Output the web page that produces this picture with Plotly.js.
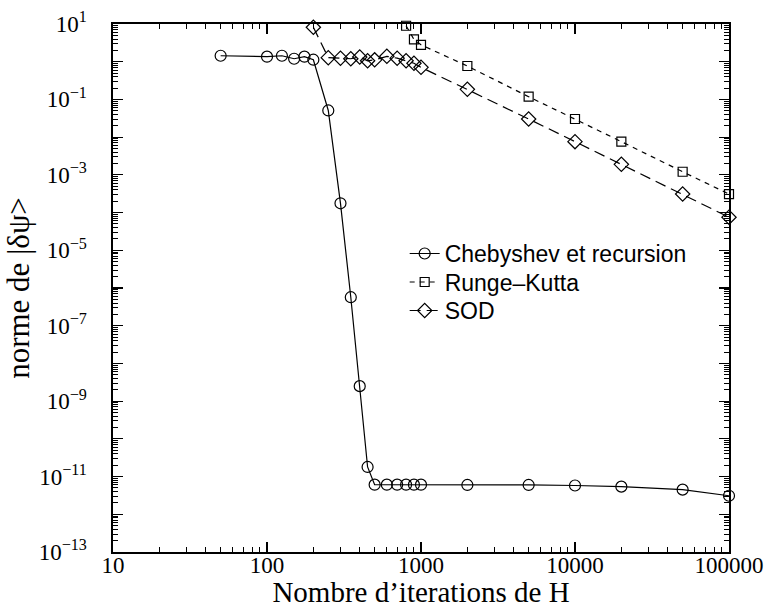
<!DOCTYPE html>
<html>
<head>
<meta charset="utf-8">
<script src="https://cdn.plot.ly/plotly-3.0.1.min.js"></script>
<style>
  html, body { margin: 0; padding: 0; background: #fff; }
  #chart { width: 768px; height: 608px; }
</style>
</head>
<body>
<div id="chart"></div>
<script>
// Convergence of |δψ> norm versus number of H iterations
const chebX = [50, 100, 125, 150, 175, 200, 250, 300, 350, 400, 450, 500, 600, 700, 800, 900, 1000, 2000, 5000, 10000, 20000, 50000, 100000];
const chebY = [1.44, 1.36, 1.44, 1.20, 1.36, 1.13, 0.051, 1.76e-4, 5.7e-7, 2.5e-9, 1.8e-11, 6.1e-12, 6.1e-12, 6.1e-12, 6.1e-12, 6.1e-12, 6.1e-12, 6.0e-12, 6.0e-12, 5.8e-12, 5.4e-12, 4.5e-12, 3.1e-12];

const rkX = [800, 900, 1000, 2000, 5000, 10000, 20000, 50000, 100000];
const rkY = [9.0, 3.9, 2.8, 0.77, 0.118, 0.0303, 7.6e-3, 1.21e-3, 3.1e-4];

const sodX = [200, 250, 300, 350, 400, 450, 500, 600, 700, 800, 900, 1000, 2000, 5000, 10000, 20000, 50000, 100000];
const sodY = [8.2, 1.28, 1.24, 1.20, 1.33, 1.06, 1.12, 1.39, 1.24, 1.06, 0.91, 0.71, 0.185, 0.0303, 7.6e-3, 1.9e-3, 3.1e-4, 7.5e-5];

const seriesNames = ['Chebyshev et recursion', 'Runge\u2013Kutta', 'SOD'];

// Axis tick labels
const xTickVals = [10, 100, 1000, 10000, 100000];
const xTickText = ['10', '100', '1000', '10000', '100000'];
const yExponents = [1, 0, -1, -2, -3, -4, -5, -6, -7, -8, -9, -10, -11, -12, -13];
const yLabelled = [1, -1, -3, -5, -7, -9, -11, -13];

const yTickVals = yExponents.map(e => Math.pow(10, e));
const yTickText = yExponents.map(e =>
  yLabelled.includes(e) ? '10<sup>' + String(e).replace('-', '\u2212') + '</sup>' : '');

// minor ticks at 2..9 within every decade
function minorTicks(lo, hi) {
  const out = [];
  for (let d = lo; d < hi; d++) {
    for (let m = 2; m <= 9; m++) out.push(m * Math.pow(10, d));
  }
  return out;
}

const serif = "'Liberation Serif', 'Times New Roman', Times, serif";
const sans = "'Liberation Sans', Arial, Helvetica, sans-serif";

const traces = [
  {
    x: chebX, y: chebY, name: seriesNames[0], type: 'scatter', mode: 'lines+markers',
    legend: 'legend', cliponaxis: false,
    line: { color: '#000', width: 1.2 },
    marker: { symbol: 'circle-open', size: 11, color: '#000', line: { width: 1.2, color: '#000' } }
  },
  {
    x: rkX, y: rkY, name: seriesNames[1], type: 'scatter', mode: 'lines+markers',
    legend: 'legend2', cliponaxis: false,
    line: { color: '#000', width: 1.2, dash: '5px,5px' },
    marker: { symbol: 'square-open', size: 9, color: '#000', line: { width: 1.2, color: '#000' } }
  },
  {
    x: sodX, y: sodY, name: seriesNames[2], type: 'scatter', mode: 'lines+markers',
    legend: 'legend3', cliponaxis: false,
    line: { color: '#000', width: 1.2, dash: '11px,6px' },
    marker: { symbol: 'diamond-open', size: 11, color: '#000', line: { width: 1.2, color: '#000' } }
  }
];

function legendAt(y) {
  return {
    x: 0.4735, y: y, xanchor: 'left', yanchor: 'top',
    bgcolor: 'rgba(0,0,0,0)', borderwidth: 0,
    font: { family: sans, size: 23, color: '#000' }
  };
}

const layout = {
  width: 768, height: 608,
  margin: { l: 113, r: 39, t: 24, b: 56 },
  paper_bgcolor: '#fff', plot_bgcolor: '#fff',
  showlegend: true,
  legend: legendAt(0.606),
  legend2: legendAt(0.552),
  legend3: legendAt(0.498),
  xaxis: {
    type: 'log', range: [1, 5],
    tickvals: xTickVals, ticktext: xTickText,
    ticks: 'inside', ticklen: 10, tickwidth: 1.2, tickcolor: '#000',
    minor: { tickvals: minorTicks(1, 5), ticks: 'inside', ticklen: 5, tickwidth: 1, tickcolor: '#000' },
    showline: true, linecolor: '#000', linewidth: 1.6, mirror: 'allticks',
    showgrid: false, zeroline: false,
    tickfont: { family: serif, size: 23, color: '#000' },
    ticklabelstandoff: -8,
    title: { text: 'Nombre d\u2019iterations de H', font: { family: serif, size: 29, color: '#000' }, standoff: 10 },
    automargin: false
  },
  yaxis: {
    type: 'log', range: [-13, 1],
    tickvals: yTickVals, ticktext: yTickText,
    ticks: 'inside', ticklen: 10, tickwidth: 1.2, tickcolor: '#000',
    minor: { tickvals: minorTicks(-13, 1), ticks: 'inside', ticklen: 5, tickwidth: 1, tickcolor: '#000' },
    showline: true, linecolor: '#000', linewidth: 1.6, mirror: 'allticks',
    showgrid: false, zeroline: false,
    tickfont: { family: serif, size: 23, color: '#000' },
    ticklabelstandoff: 20,
    title: { text: 'norme de |\u03b4\u03c8>', font: { family: serif, size: 31, color: '#000' }, standoff: 0 },
    automargin: false
  }
};

Plotly.newPlot('chart', traces, layout, { displayModeBar: false, staticPlot: true });
</script>
</body>
</html>
